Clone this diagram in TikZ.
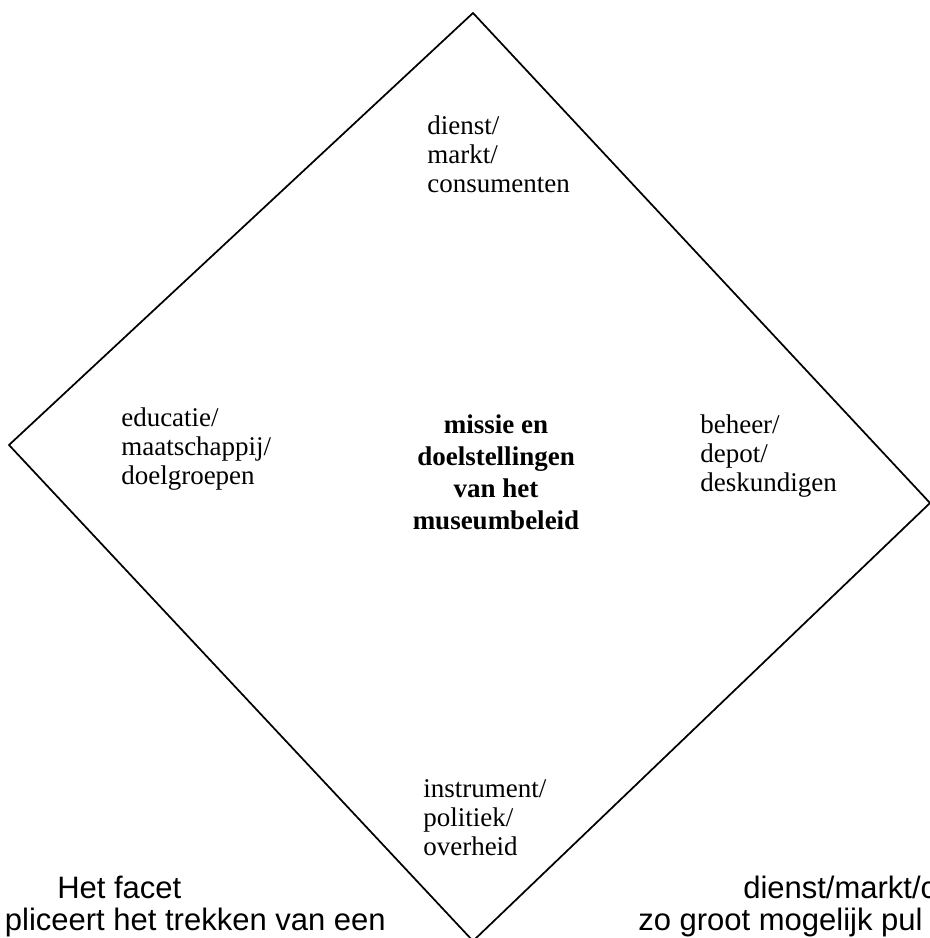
\documentclass[tikz,border=0pt]{standalone}
\usepackage{fontspec}
\setmainfont{Liberation Serif}
\newfontfamily\arialfont{Liberation Sans}
\usepackage{tikz}
\tikzset{
	labelstyle/.style={anchor=base west,align=left,inner sep=0pt,font=\fontsize{20.25pt}{21.4pt}\selectfont},
	centerstyle/.style={anchor=base,align=center,inner sep=0pt,font=\fontsize{20.25pt}{24pt}\selectfont\bfseries},
	notestyle/.style={inner sep=0pt,font=\arialfont\fontsize{23.25pt}{24pt}\selectfont},
	edgestyle/.style={draw=black,line width=1.3pt,line join=miter}
}
\begin{document}
\begin{tikzpicture}[x=0.75pt,y=-0.75pt]
		\useasboundingbox (0,0) rectangle (930,938);
		\clip (0,0) rectangle (930,938);
		\fill[white] (0,0) rectangle (930,938);
		\coordinate (t) at (473,13);
		\coordinate (r) at (930,503);
		\coordinate (b) at (473,941);
		\coordinate (l) at (9,445);
		\draw[edgestyle] (t)--(r)--(b)--(l)--cycle;
		% anchors sit on the last line
		\node[labelstyle] (markt) at (427,192) {dienst/\\markt/\\consumenten};
		\node[labelstyle] (educ) at (121,484) {educatie/\\maatschappij/\\doelgroepen};
		\node[labelstyle] (beheer) at (700,491) {beheer/\\depot/\\deskundigen};
		\node[labelstyle] (instr) at (423,855) {instrument/\\politiek/\\overheid};
		\node[centerstyle] (missie) at (496,529) {missie en\\doelstellingen\\van het\\museumbeleid};
		\node[notestyle,anchor=base west] (facet) at (57,898) {Het facet};
		\node[notestyle,anchor=base east] (trek) at (386,930) {pliceert het trekken van een};
		\node[notestyle,anchor=base west] (dienst) at (743,898) {dienst/markt/c};
		\node[notestyle,anchor=base west] (publiek) at (638,930) {zo groot mogelijk pul};
\end{tikzpicture}
\end{document}
